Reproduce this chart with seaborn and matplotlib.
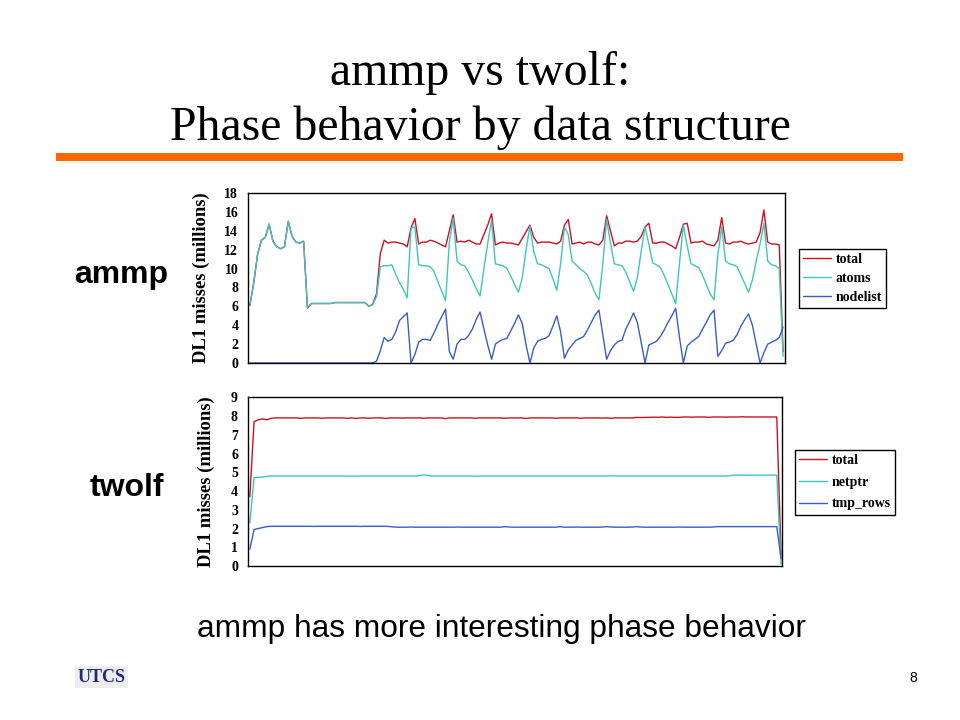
"""
plot.py

Slide: ammp vs twolf phase behavior by data structure (DL1 misses).
"""

import matplotlib
matplotlib.use("Agg")
import matplotlib.pyplot as plt
from matplotlib.patches import Rectangle
import pandas as pd
import seaborn as sns

# ---- data -------------------------------------------------------------
# ammp: one value per sample interval (140 samples)
ammp_total = [
    6.1, 8.5, 11.5, 13.0, 13.3, 14.7, 12.9, 12.3, 12.1, 12.3,
    15.0, 13.4, 12.8, 12.7, 12.9, 5.8, 6.3, 6.3, 6.3, 6.3,
    6.3, 6.3, 6.4, 6.4, 6.4, 6.4, 6.4, 6.4, 6.4, 6.4,
    6.4, 6.0, 6.2, 7.3, 11.6, 13.0, 12.7, 12.8, 12.8, 12.7,
    12.6, 12.3, 14.3, 15.3, 12.6, 12.8, 12.8, 13.0, 12.9, 12.7,
    12.5, 12.3, 14.0, 15.7, 12.8, 12.9, 12.8, 13.0, 12.8, 12.6,
    12.6, 13.6, 14.6, 15.8, 12.5, 12.7, 12.8, 12.7, 12.7, 12.6,
    12.5, 13.2, 13.9, 14.6, 13.3, 12.7, 12.8, 12.8, 12.8, 12.7,
    12.6, 12.9, 14.6, 15.2, 12.6, 12.7, 12.8, 12.6, 12.8, 12.8,
    12.6, 12.5, 13.0, 15.6, 14.0, 12.4, 12.7, 12.7, 12.9, 12.9,
    12.8, 12.9, 13.4, 14.4, 14.8, 12.7, 12.7, 12.8, 12.8, 12.6,
    12.4, 12.1, 13.3, 14.7, 14.8, 12.7, 12.8, 12.8, 12.9, 12.6,
    12.5, 12.4, 13.0, 15.4, 12.7, 12.6, 12.8, 12.8, 12.9, 12.7,
    12.6, 12.7, 12.8, 13.8, 16.2, 12.8, 12.6, 12.6, 12.5, 1.2,
]
ammp_atoms = [
    6.1, 8.5, 11.5, 13.0, 13.3, 14.7, 12.9, 12.3, 12.1, 12.3,
    15.0, 13.4, 12.8, 12.7, 12.9, 5.8, 6.3, 6.3, 6.3, 6.3,
    6.3, 6.3, 6.4, 6.4, 6.4, 6.4, 6.4, 6.4, 6.4, 6.4,
    6.4, 6.0, 6.2, 7.0, 10.2, 10.3, 10.3, 10.4, 9.4, 8.5,
    7.8, 6.9, 14.3, 14.4, 10.4, 10.3, 10.3, 10.2, 9.7, 8.6,
    7.6, 6.6, 12.8, 15.3, 10.8, 10.4, 10.3, 9.6, 8.8, 7.9,
    7.1, 10.0, 12.7, 15.1, 10.5, 10.4, 10.3, 10.0, 9.2, 8.3,
    7.5, 9.0, 12.0, 14.5, 11.8, 10.5, 10.4, 10.2, 10.0, 8.9,
    7.7, 10.5, 14.4, 13.6, 10.8, 10.4, 10.0, 9.7, 9.3, 8.4,
    7.4, 6.7, 10.5, 15.2, 12.7, 10.5, 10.4, 10.3, 9.6, 8.6,
    7.6, 9.0, 11.8, 14.4, 12.6, 10.6, 10.4, 10.1, 9.3, 8.3,
    7.3, 6.3, 10.6, 14.6, 12.4, 10.5, 10.3, 10.1, 9.3, 8.3,
    7.3, 6.7, 11.5, 14.4, 10.8, 10.5, 10.4, 10.2, 9.3, 8.4,
    7.5, 8.8, 10.8, 12.6, 14.8, 10.8, 10.4, 10.3, 10.0, 0.7,
]
ammp_nodelist = [
    0, 0, 0, 0, 0, 0, 0, 0, 0, 0,
    0, 0, 0, 0, 0, 0, 0, 0, 0, 0,
    0, 0, 0, 0, 0, 0, 0, 0, 0, 0,
    0, 0, 0, 0.2, 1.3, 2.7, 2.3, 2.5, 3.3, 4.5,
    4.9, 5.3, 0.0, 0.9, 2.2, 2.5, 2.5, 2.4, 3.2, 4.1,
    4.9, 5.7, 1.2, 0.4, 2.0, 2.5, 2.5, 2.9, 3.6, 4.6,
    5.4, 3.6, 1.9, 0.4, 2.0, 2.3, 2.5, 2.6, 3.4, 4.2,
    5.1, 4.2, 1.9, 0.0, 1.6, 2.3, 2.5, 2.6, 2.9, 3.9,
    5.0, 3.3, 0.5, 1.4, 1.9, 2.4, 2.6, 2.8, 3.5, 4.3,
    5.1, 5.6, 3.0, 0.4, 1.3, 1.9, 2.3, 2.4, 3.6, 4.4,
    5.3, 4.3, 2.2, 0.0, 1.9, 2.1, 2.3, 2.8, 3.5, 4.3,
    5.0, 5.8, 2.7, 0.0, 1.8, 2.2, 2.5, 2.8, 3.6, 4.3,
    5.1, 5.6, 0.7, 1.3, 2.1, 2.2, 2.4, 3.0, 3.9, 4.6,
    5.2, 4.0, 2.0, 0.0, 1.1, 2.0, 2.2, 2.4, 2.7, 3.8,
]

# twolf: 126 samples
twolf_total = [
    3.7, 7.7, 7.8, 7.85, 7.8, 7.88, 7.9, 7.9, 7.9, 7.9,
    7.9, 7.9, 7.88, 7.9, 7.9, 7.9, 7.9, 7.88, 7.9, 7.9,
    7.9, 7.9, 7.9, 7.88, 7.9, 7.87, 7.9, 7.9, 7.88, 7.9,
    7.9, 7.9, 7.87, 7.9, 7.9, 7.9, 7.89, 7.9, 7.9, 7.9,
    7.9, 7.88, 7.9, 7.9, 7.9, 7.9, 7.86, 7.9, 7.9, 7.9,
    7.9, 7.9, 7.9, 7.88, 7.9, 7.9, 7.9, 7.9, 7.9, 7.9,
    7.88, 7.9, 7.9, 7.9, 7.9, 7.87, 7.9, 7.9, 7.9, 7.9,
    7.9, 7.9, 7.88, 7.9, 7.9, 7.9, 7.9, 7.9, 7.88, 7.9,
    7.9, 7.9, 7.9, 7.89, 7.9, 7.88, 7.9, 7.9, 7.9, 7.9,
    7.9, 7.93, 7.92, 7.93, 7.93, 7.94, 7.93, 7.95, 7.93, 7.94,
    7.93, 7.93, 7.95, 7.95, 7.94, 7.95, 7.95, 7.95, 7.93, 7.95,
    7.95, 7.95, 7.94, 7.95, 7.95, 7.95, 7.96, 7.95, 7.95, 7.95,
    7.95, 7.95, 7.95, 7.95, 7.95, 0.6,
]
twolf_netptr = [
    2.3, 4.72, 4.73, 4.75, 4.78, 4.8, 4.8, 4.8, 4.8, 4.8,
    4.8, 4.8, 4.8, 4.8, 4.8, 4.8, 4.8, 4.8, 4.8, 4.8,
    4.8, 4.8, 4.8, 4.8, 4.79, 4.8, 4.8, 4.8, 4.8, 4.8,
    4.8, 4.8, 4.8, 4.8, 4.8, 4.8, 4.8, 4.8, 4.8, 4.8,
    4.83, 4.86, 4.83, 4.8, 4.8, 4.8, 4.8, 4.8, 4.8, 4.8,
    4.8, 4.8, 4.8, 4.79, 4.8, 4.8, 4.8, 4.8, 4.8, 4.8,
    4.8, 4.8, 4.8, 4.8, 4.8, 4.8, 4.8, 4.8, 4.8, 4.8,
    4.8, 4.8, 4.8, 4.8, 4.8, 4.8, 4.8, 4.8, 4.8, 4.8,
    4.8, 4.8, 4.8, 4.8, 4.8, 4.81, 4.8, 4.8, 4.8, 4.8,
    4.8, 4.8, 4.8, 4.8, 4.8, 4.8, 4.8, 4.8, 4.8, 4.8,
    4.8, 4.8, 4.8, 4.8, 4.8, 4.8, 4.8, 4.8, 4.8, 4.8,
    4.8, 4.8, 4.8, 4.82, 4.85, 4.85, 4.85, 4.84, 4.85, 4.85,
    4.85, 4.85, 4.85, 4.85, 4.85, 0.1,
]
twolf_tmp_rows = [
    0.9, 1.95, 2.0, 2.05, 2.1, 2.12, 2.12, 2.12, 2.12, 2.12,
    2.12, 2.12, 2.12, 2.12, 2.12, 2.11, 2.12, 2.12, 2.12, 2.12,
    2.12, 2.12, 2.12, 2.12, 2.12, 2.12, 2.11, 2.12, 2.12, 2.12,
    2.12, 2.12, 2.12, 2.1, 2.08, 2.07, 2.07, 2.07, 2.08, 2.07,
    2.07, 2.07, 2.07, 2.07, 2.07, 2.07, 2.07, 2.07, 2.07, 2.08,
    2.07, 2.07, 2.07, 2.07, 2.07, 2.07, 2.07, 2.07, 2.07, 2.07,
    2.1, 2.08, 2.07, 2.07, 2.07, 2.07, 2.07, 2.07, 2.07, 2.07,
    2.07, 2.07, 2.07, 2.1, 2.07, 2.07, 2.07, 2.08, 2.07, 2.07,
    2.07, 2.07, 2.07, 2.08, 2.1, 2.08, 2.07, 2.07, 2.07, 2.07,
    2.08, 2.1, 2.08, 2.07, 2.07, 2.07, 2.07, 2.07, 2.07, 2.07,
    2.07, 2.08, 2.07, 2.07, 2.07, 2.07, 2.07, 2.07, 2.07, 2.08,
    2.1, 2.1, 2.1, 2.1, 2.1, 2.1, 2.1, 2.1, 2.1, 2.1,
    2.1, 2.1, 2.1, 2.1, 2.1, 0.4,
]

ammp_series = ["total", "atoms", "nodelist"]
twolf_series = ["total", "netptr", "tmp_rows"]
line_colors = ["#CC1122", "#3CC6C0", "#3A5CC8"]

SERIF = ["Liberation Serif", "DejaVu Serif"]
SANS = ["Liberation Sans", "DejaVu Sans"]


def to_long(columns, names):
    df = pd.DataFrame(dict(zip(names, columns)))
    df["sample"] = range(len(df))
    return df.melt(id_vars="sample", var_name="series", value_name="misses")


def draw_panel(fig, rect, df, names, ymax, ystep, xmax, xstep, legend_anchor, spacing, label_x):
    ax = fig.add_axes(rect)
    sns.lineplot(data=df, x="sample", y="misses", hue="series", hue_order=names,
                 palette=dict(zip(names, line_colors)), linewidth=1.0,
                 errorbar=None, ax=ax)
    ax.set_xlim(-0.5, xmax)
    ax.set_ylim(0, ymax)
    ax.set_yticks(range(0, ymax + 1, ystep))
    ax.set_xticks([x - 0.5 for x in range(0, int(xmax), xstep)])
    ax.tick_params(axis="x", direction="out", length=4, width=0.8, labelbottom=False,
                   color="black")
    ax.tick_params(axis="y", direction="out", length=3, width=0.8, pad=4, labelsize=10,
                   color="black", labelcolor="black")
    for lbl in ax.get_yticklabels():
        lbl.set_fontweight("bold")
        lbl.set_family(SERIF)
    for sp in ax.spines.values():
        sp.set_visible(True)
        sp.set_color("black")
        sp.set_linewidth(1.0)
    ax.set_xlabel("")
    ax.set_ylabel("DL1 misses (millions)", fontsize=13.4, fontweight="bold", family=SERIF,
                  color="black")
    ax.yaxis.set_label_coords(label_x, 0.5)

    handles, labels = ax.get_legend_handles_labels()
    leg = ax.legend(handles, labels, loc="upper left", bbox_to_anchor=legend_anchor,
                    bbox_transform=fig.transFigure, borderaxespad=0, frameon=True,
                    fancybox=False, edgecolor="black", framealpha=1, borderpad=0.3,
                    handlelength=2.0, handletextpad=0.35, labelspacing=spacing,
                    prop={"family": SERIF, "weight": "bold", "size": 10})
    leg.get_frame().set_linewidth(1.0)
    for txt in leg.get_texts():
        txt.set_color("black")
    return ax


sns.set_style("white")
plt.rcParams["font.family"] = SERIF
plt.rcParams["text.color"] = "black"

fig = plt.figure(figsize=(9.6, 7.2), dpi=100)
fig.patch.set_facecolor("white")

# title
fig.text(0.5, 1 - 85 / 720, "ammp vs twolf:", ha="center", va="baseline", fontsize=34.4,
         family=SERIF, color="black")
fig.text(0.5, 1 - 140 / 720, "Phase behavior by data structure", ha="center", va="baseline",
         fontsize=34.4, family=SERIF, color="black")
fig.add_artist(Rectangle((56 / 960, 1 - 160.7 / 720), (903 - 56) / 960, 7.4 / 720,
                         transform=fig.transFigure, color="#FF6600", lw=0))

# panels
ammp_df = to_long([ammp_total, ammp_atoms, ammp_nodelist], ammp_series)
draw_panel(fig, [248 / 960, 1 - 363 / 720, 537 / 960, 170 / 720], ammp_df, ammp_series,
           18, 2, 139.5, 12, (799 / 960, 1 - 249 / 720), 0.42, -0.07)

twolf_df = to_long([twolf_total, twolf_netptr, twolf_tmp_rows], twolf_series)
draw_panel(fig, [247.7 / 960, 1 - 566 / 720, 534.6 / 960, 168.7 / 720], twolf_df, twolf_series,
           9, 1, 125.3, 10, (795 / 960, 1 - 450 / 720), 0.62, -0.062)

# side labels and footer
fig.text(121 / 960, 1 - 283 / 720, "ammp", ha="center", va="baseline", fontsize=23,
         fontweight="bold", family=SANS, color="black")
fig.text(126.5 / 960, 1 - 496 / 720, "twolf", ha="center", va="baseline", fontsize=23,
         fontweight="bold", family=SANS, color="black")
fig.text(501.5 / 960, 1 - 637 / 720, "ammp has more interesting phase behavior", ha="center",
         va="baseline", fontsize=22.8, family=SANS, color="black")
fig.text(913 / 960, 1 - 678 / 720, "8", ha="center", va="center", fontsize=10, family=SANS,
         color="black")
fig.text(101.5 / 960, 1 - 677 / 720, "UTCS", ha="center", va="center", fontsize=13,
         fontweight="bold", family=SERIF, color="#1F2A7A",
         bbox=dict(facecolor="#EDEDED", edgecolor="none", pad=1.5))

fig.savefig("out.png", dpi=100)
